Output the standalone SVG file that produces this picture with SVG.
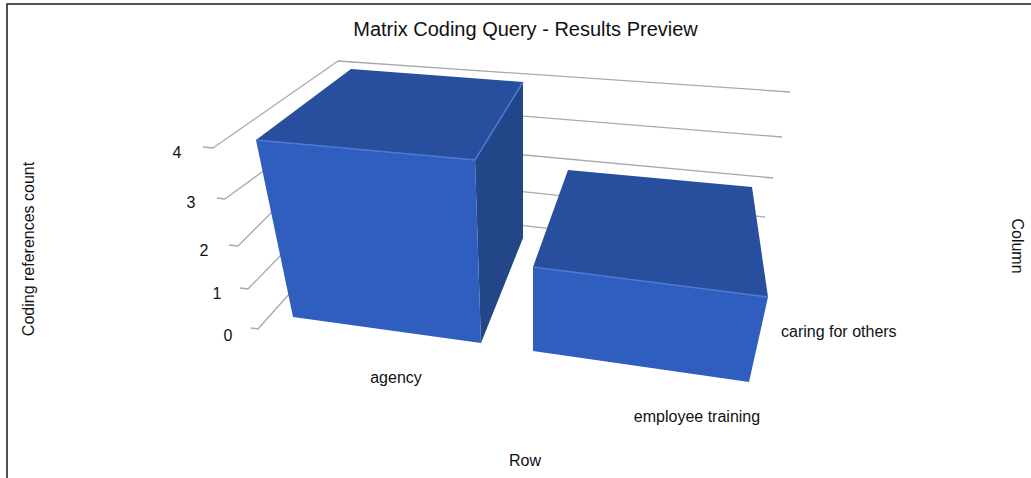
<svg xmlns="http://www.w3.org/2000/svg" width="1031" height="478" viewBox="0 0 1031 478">
<style>
  .grid { fill: none; stroke: #a9a9a9; stroke-width: 1.3; stroke-linejoin: round; }
  .lbl { font-family: "Liberation Sans", Arial, sans-serif; font-size: 16px; fill: #111; }
  .ttl { font-family: "Liberation Sans", Arial, sans-serif; font-size: 20px; fill: #111; }
  .front { fill: #2f5ebe; }
  .top { fill: #284f9d; }
  .side { fill: #234689; }
  .hl { fill: none; stroke: #4d7bd3; stroke-width: 1.5; }
  .frame { fill: none; stroke: #1a1a1a; stroke-width: 1.5; }
</style>
<rect width="1031" height="478" fill="#ffffff"/>
<path class="frame" d="M7,478 L7,4 L1031,4"/>
<text class="ttl" x="525.5" y="36" text-anchor="middle">Matrix Coding Query - Results Preview</text>
<g id="gridlines">
  <polyline class="grid" points="203,147 213,148 338,61 790,92"/>
  <polyline class="grid" points="217,198 225,199 262,172 350,102 782,137"/>
  <polyline class="grid" points="229,245 238,246 272,212 362,140 773,178"/>
  <polyline class="grid" points="240,288 248,289 280,256 374,176 765,217"/>
  <polyline class="grid" points="251,328 258,329 290,293 385,210 758,252"/>
</g>
<g id="axis-labels">
  <text class="lbl" x="177" y="158" text-anchor="middle">4</text>
  <text class="lbl" x="191" y="208" text-anchor="middle">3</text>
  <text class="lbl" x="204" y="256" text-anchor="middle">2</text>
  <text class="lbl" x="217" y="299" text-anchor="middle">1</text>
  <text class="lbl" x="228" y="341" text-anchor="middle">0</text>
  <text class="lbl" transform="translate(34,249) rotate(-90)" text-anchor="middle">Coding references count</text>
  <text class="lbl" transform="translate(1012,246) rotate(90)" text-anchor="middle">Column</text>
  <text class="lbl" x="525" y="466" text-anchor="middle">Row</text>
</g>
<g id="bar-agency">
  <polygon class="top" points="256,140 351,69 523,82 475,160"/>
  <polygon class="side" points="475,160 523,82 523,238 481,343"/>
  <polygon class="front" points="256,140 475,160 481,343 293,317"/>
  <polyline class="hl" points="256,140 475,160 523,82"/>
  <text class="lbl" x="396" y="383" text-anchor="middle">agency</text>
</g>
<g id="bar-employee-training">
  <polygon class="top" points="533,267 568,170 752,187 768,297"/>
  <polygon class="front" points="533,267 768,297 749,382 533,351"/>
  <polyline class="hl" points="533,267 768,297"/>
  <text class="lbl" x="697" y="422" text-anchor="middle">employee training</text>
</g>
<g id="series-label">
  <text class="lbl" x="781" y="337">caring for others</text>
</g>
</svg>
